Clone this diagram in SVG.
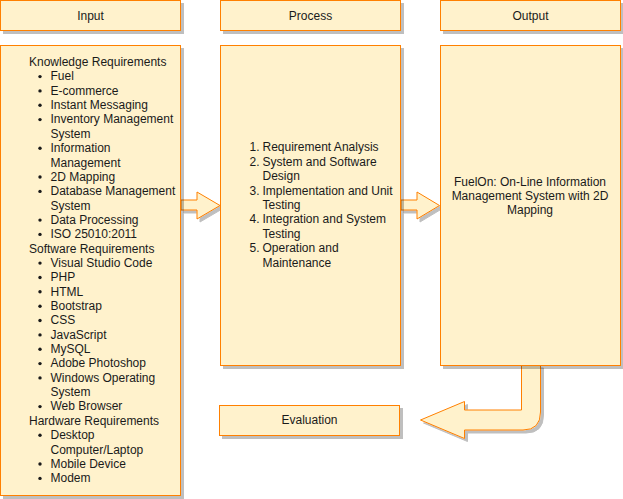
<svg xmlns="http://www.w3.org/2000/svg" width="623" height="499" viewBox="0 0 623 499">
<defs>
<filter id="sh" x="-10%" y="-10%" width="130%" height="130%">
<feFlood flood-color="#000" flood-opacity="0.25" result="f"/>
<feComposite in="f" in2="SourceAlpha" operator="in" result="s"/>
<feOffset in="s" dx="3" dy="3" result="o"/>
<feMerge><feMergeNode in="o"/><feMergeNode in="SourceGraphic"/></feMerge>
</filter>
</defs>
<style>
.box{fill:#fff2cc;stroke:#ff8000;stroke-width:1;filter:url(#sh)}
.arr{fill:#fff2cc;stroke:#ff8000;stroke-width:1;stroke-linejoin:miter;filter:url(#sh)}
text{font-family:"Liberation Sans",Arial,sans-serif;font-size:12px;fill:#1a1a1a}
.c{text-anchor:middle}
.b{fill:#1a1a1a}
</style>
<rect width="623" height="499" fill="#fff"/>
<g id="connectors">
<path class="arr" d="M181,200 L197,200 L197,192 L220,205.5 L197,219 L197,210 L181,210 Z"/>
<path class="arr" d="M401,200 L417,200 L417,192 L439.5,205.5 L417,219 L417,210 L401,210 Z"/>
<path class="arr" d="M521.5,365 L521.5,410 L464.5,410 L464.5,401.5 L420.5,420 L464.5,438.5 L464.5,430 L523,430 Q540.5,430 540.5,412 L540.5,365 Z"/>
</g>
<g id="input-header">
<rect class="box" x="0.5" y="0.5" width="180" height="30"/>
<text class="c" x="90.5" y="19.5">Input</text>
</g>
<g id="process-header">
<rect class="box" x="220.5" y="0.5" width="180" height="30"/>
<text class="c" x="310.5" y="19.5">Process</text>
</g>
<g id="output-header">
<rect class="box" x="440.5" y="0.5" width="180" height="30"/>
<text class="c" x="530.5" y="19.5">Output</text>
</g>
<g id="input">
<rect class="box" x="0.5" y="45.5" width="180" height="450"/>
<text x="29" y="66">Knowledge Requirements</text>
<text x="50.5" y="80.4">Fuel</text>
<text x="50.5" y="94.7">E-commerce</text>
<text x="50.5" y="109.1">Instant Messaging</text>
<text x="50.5" y="123.4">Inventory Management</text>
<text x="50.5" y="137.8">System</text>
<text x="50.5" y="152.1">Information</text>
<text x="50.5" y="166.5">Management</text>
<text x="50.5" y="180.8">2D Mapping</text>
<text x="50.5" y="195.2">Database Management</text>
<text x="50.5" y="209.5">System</text>
<text x="50.5" y="223.9">Data Processing</text>
<text x="50.5" y="238.2">ISO 25010:2011</text>
<text x="29" y="252.6">Software Requirements</text>
<text x="50.5" y="266.9">Visual Studio Code</text>
<text x="50.5" y="281.3">PHP</text>
<text x="50.5" y="295.6">HTML</text>
<text x="50.5" y="310">Bootstrap</text>
<text x="50.5" y="324.3">CSS</text>
<text x="50.5" y="338.7">JavaScript</text>
<text x="50.5" y="353">MySQL</text>
<text x="50.5" y="367.4">Adobe Photoshop</text>
<text x="50.5" y="381.7">Windows Operating</text>
<text x="50.5" y="396.1">System</text>
<text x="50.5" y="410.4">Web Browser</text>
<text x="29" y="424.8">Hardware Requirements</text>
<text x="50.5" y="439.1">Desktop</text>
<text x="50.5" y="453.5">Computer/Laptop</text>
<text x="50.5" y="467.8">Mobile Device</text>
<text x="50.5" y="482.2">Modem</text>
<g class="b">
<circle cx="40" cy="76.6" r="1.7"/>
<circle cx="40" cy="90.9" r="1.7"/>
<circle cx="40" cy="105.3" r="1.7"/>
<circle cx="40" cy="119.6" r="1.7"/>
<circle cx="40" cy="148.3" r="1.7"/>
<circle cx="40" cy="177" r="1.7"/>
<circle cx="40" cy="191.4" r="1.7"/>
<circle cx="40" cy="220.1" r="1.7"/>
<circle cx="40" cy="234.4" r="1.7"/>
<circle cx="40" cy="263.1" r="1.7"/>
<circle cx="40" cy="277.5" r="1.7"/>
<circle cx="40" cy="291.8" r="1.7"/>
<circle cx="40" cy="306.2" r="1.7"/>
<circle cx="40" cy="320.5" r="1.7"/>
<circle cx="40" cy="334.9" r="1.7"/>
<circle cx="40" cy="349.2" r="1.7"/>
<circle cx="40" cy="363.6" r="1.7"/>
<circle cx="40" cy="377.9" r="1.7"/>
<circle cx="40" cy="406.6" r="1.7"/>
<circle cx="40" cy="435.3" r="1.7"/>
<circle cx="40" cy="464" r="1.7"/>
<circle cx="40" cy="478.4" r="1.7"/>
</g>
</g>
<g id="process">
<rect class="box" x="220.5" y="45.5" width="180" height="320"/>
<text x="249.5" y="151.3">1.</text>
<text x="262.5" y="151.3">Requirement Analysis</text>
<text x="249.5" y="165.7">2.</text>
<text x="262.5" y="165.7">System and Software</text>
<text x="262.5" y="180.1">Design</text>
<text x="249.5" y="194.5">3.</text>
<text x="262.5" y="194.5">Implementation and Unit</text>
<text x="262.5" y="208.9">Testing</text>
<text x="249.5" y="223.3">4.</text>
<text x="262.5" y="223.3">Integration and System</text>
<text x="262.5" y="237.7">Testing</text>
<text x="249.5" y="252.1">5.</text>
<text x="262.5" y="252.1">Operation and</text>
<text x="262.5" y="266.5">Maintenance</text>
</g>
<g id="output">
<rect class="box" x="440.5" y="45.5" width="180" height="320"/>
<text class="c" x="530" y="185.5">FuelOn: On-Line Information</text>
<text class="c" x="530" y="199.9">Management System with 2D</text>
<text class="c" x="530" y="214.3">Mapping</text>
</g>
<g id="evaluation">
<rect class="box" x="219.5" y="405.5" width="180" height="30"/>
<text class="c" x="309.5" y="424">Evaluation</text>
</g>
</svg>
